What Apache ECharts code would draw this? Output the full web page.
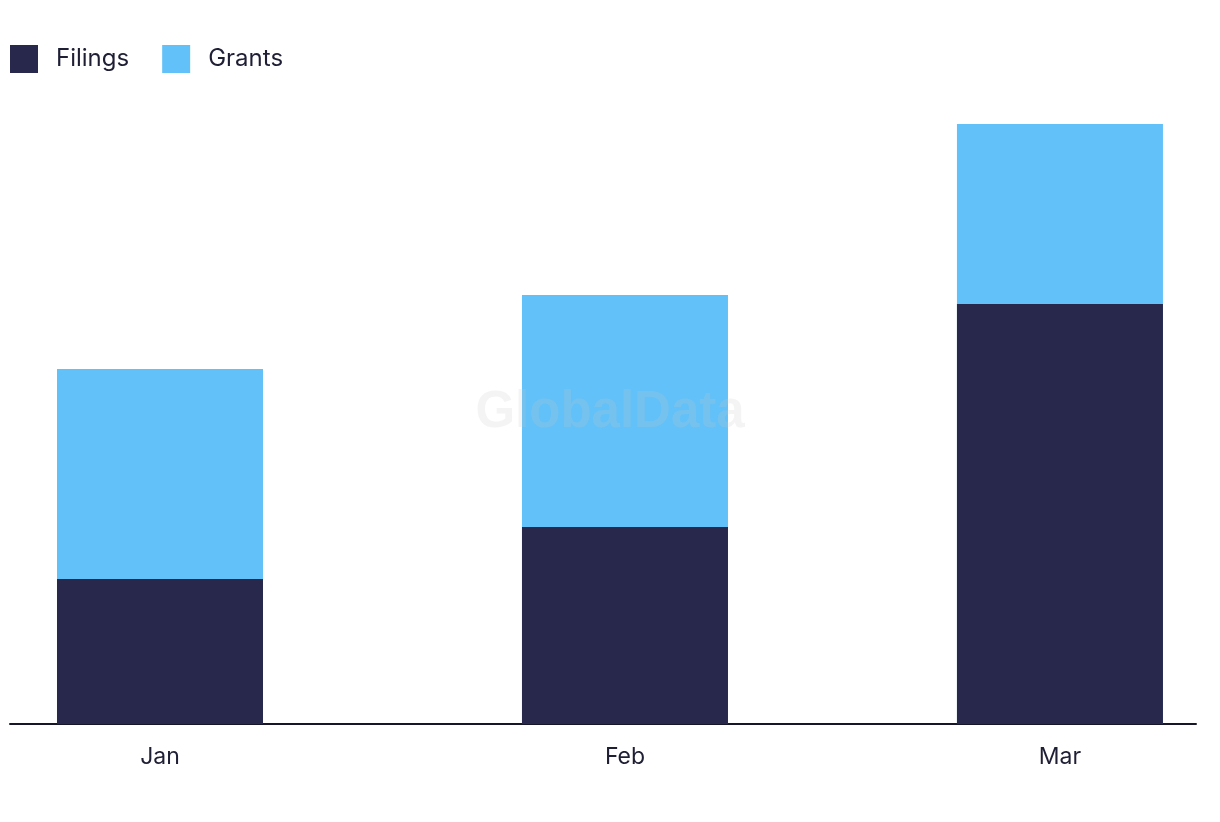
<!DOCTYPE html>
<html>
<head>
<meta charset="utf-8">
<title>Filings and Grants</title>
<script src="https://cdn.jsdelivr.net/npm/echarts@6/dist/echarts.min.js"></script>
<style>
  html, body { margin: 0; padding: 0; background: #ffffff; }
  #chart { width: 1220px; height: 822px; }
</style>
</head>
<body>
<div id="chart"></div>
<script>
// data
const months = ['2024-01-01', '2024-02-01', '2024-03-01'];
const monthLabels = ['Jan', 'Feb', 'Mar'];
const filings = [29, 39.4, 84];
const grants = [42, 46.4, 36];

// bars sit on a day scale (days since 1 Jan), so the month gaps follow the calendar
const DAY = 86400000;
const start = new Date('2024-01-01T00:00:00Z').getTime();
const monthDays = months.map(m => (new Date(m + 'T00:00:00Z').getTime() - start) / DAY);

// value axis can't stack bars, so grants are drawn as the running total behind filings
const totals = filings.map((f, i) => f + grants[i]);
const pairs = vals => vals.map((v, i) => [monthDays[i], v]);

const chart = echarts.init(document.getElementById('chart'));

chart.setOption({
  animation: false,
  textStyle: { fontFamily: 'Inter, "Noto Sans", sans-serif' },
  legend: {
    left: 5,
    top: 40,
    itemWidth: 28,
    itemHeight: 28,
    itemGap: 33,
    icon: 'rect',
    textStyle: { fontSize: 24, color: '#1e1e35', padding: [0, 0, 0, 13] },
    data: ['Filings', 'Grants']
  },
  grid: { left: 10, right: 24, top: 124, bottom: 98, containLabel: false },
  xAxis: {
    type: 'value',
    min: -10,
    max: 69.07,
    axisLine: { show: true, onZero: false, lineStyle: { color: '#16162a', width: 2 } },
    axisTick: { show: false },
    splitLine: { show: false },
    axisLabel: {
      customValues: monthDays,
      fontSize: 23,
      color: '#1e1e35',
      margin: 22,
      formatter: v => {
        const i = monthDays.indexOf(v);
        return i >= 0 ? monthLabels[i] : '';
      }
    }
  },
  yAxis: {
    type: 'value',
    min: 0,
    max: 120,
    show: false,
    splitLine: { show: false }
  },
  graphic: [{
    type: 'text',
    left: 'center',
    top: 387,
    z: 100,
    style: {
      text: 'GlobalData',
      font: 'bold 51px "Liberation Sans", Arial, sans-serif',
      fill: 'rgba(200,200,200,0.2)'
    }
  }],
  series: [
    {
      name: 'Grants',
      type: 'bar',
      barWidth: 206,
      barGap: '-100%',
      z: 2,
      itemStyle: { color: '#62c1f8' },
      data: pairs(totals)
    },
    {
      name: 'Filings',
      type: 'bar',
      barWidth: 206,
      barGap: '-100%',
      z: 3,
      itemStyle: { color: '#27284b' },
      data: pairs(filings)
    }
  ]
});
</script>
</body>
</html>
